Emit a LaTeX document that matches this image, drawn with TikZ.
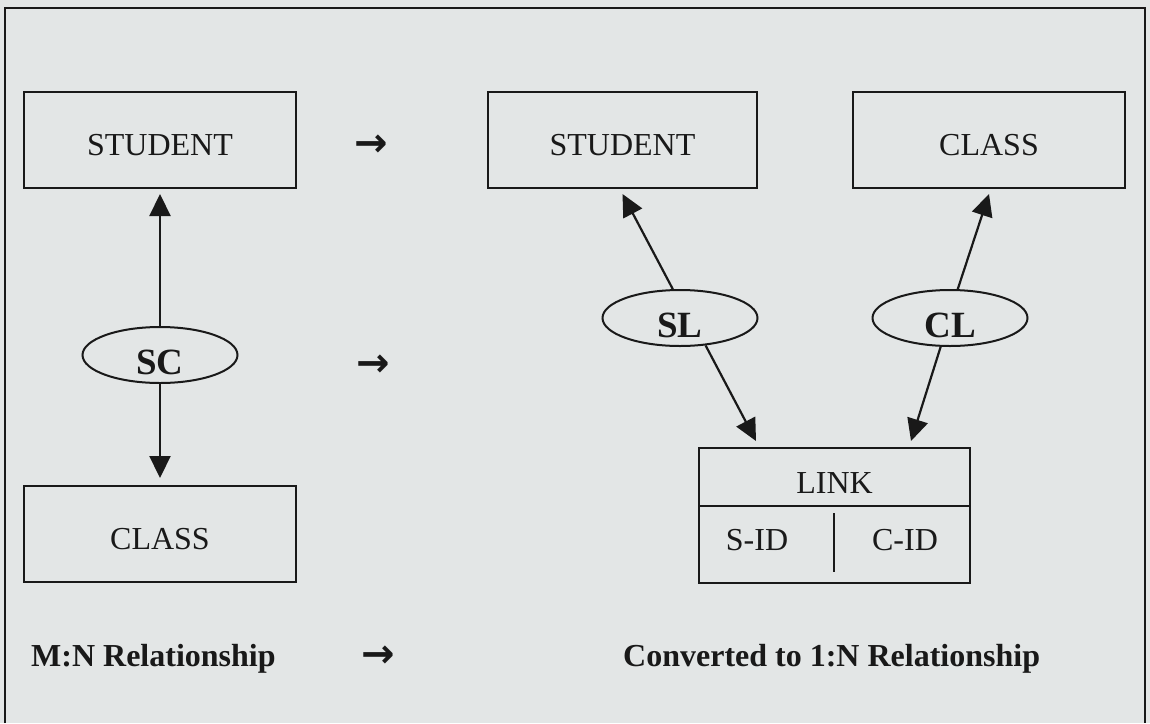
\documentclass[tikz,border=0pt]{standalone}
\usepackage{fontspec}
\setmainfont{Liberation Serif}
\newfontfamily\arrowfont{DejaVu Sans}
\usetikzlibrary{shapes.geometric,arrows.meta,calc}
\definecolor{bgc}{RGB}{227,230,230}
\definecolor{ink}{RGB}{25,25,25}
\tikzset{
  entity/.style={draw=ink, line width=2pt, minimum width=272pt, minimum height=96pt,
    inner sep=0pt, text height=30pt, text depth=0pt, font=\fontsize{32}{36}\selectfont, text=ink},
  rel/.style={ellipse, draw=ink, line width=2pt, minimum width=155pt, minimum height=56pt,
    inner sep=0pt, text height=39pt, text depth=0pt, font=\fontsize{37}{40}\selectfont\bfseries, text=ink},
  conn/.style={draw=ink, line width=2.2pt, -{Triangle[width=21pt,length=22pt]}},
  plain/.style={inner sep=0pt, anchor=base, font=\fontsize{32}{36}\selectfont, text=ink},
  caption/.style={inner sep=0pt, anchor=base west, font=\fontsize{32}{36}\selectfont\bfseries, text=ink},
  arrowtxt/.style={inner sep=0pt, font=\arrowfont\bfseries\fontsize{40}{44}\selectfont, text=ink},
  divider/.style={draw=ink, line width=2pt}
}
\begin{document}
\begin{tikzpicture}[x=1pt,y=-1pt]
\fill[bgc] (0,0) rectangle (1150,723);
\useasboundingbox (0,0) rectangle (1150,723);
% outer frame
\coordinate (f1) at (5,723);
\coordinate (f2) at (5,8);
\coordinate (f3) at (1145,8);
\coordinate (f4) at (1145,723);
\draw[divider] (f1) -- (f2) -- (f3) -- (f4);

% left side: M:N
\node[entity] (ls) at (160,140) {STUDENT};
\node[entity] (lc) at (160,534) {CLASS};
\node[rel] (sc) at (160,355) {SC};
\draw[conn] (sc) -- ([yshift=-5pt]ls.south);
\draw[conn] (sc) -- ([yshift=7pt]lc.north);

% transition arrows
\node[arrowtxt] (a1) at (371,146) {→};
\node[arrowtxt] (a2) at (373,366) {→};
\node[arrowtxt] (a3) at (378,657) {→};

% right side: 1:N
\node[entity, minimum width=269pt] (rs) at (622.5,140) {STUDENT};
\node[entity] (rc) at (989,140) {CLASS};
\node[rel] (sl) at (680,318) {SL};
\node[rel] (cl) at (950,318) {CL};
\node[draw=ink, line width=2pt, minimum width=271pt, minimum height=135pt, inner sep=0pt] (link) at (834.5,515.5) {};
\node[plain] (lt) at (834.5,493) {LINK};
\node[plain] (sid) at (757,550) {S-ID};
\node[plain] (cid) at (905,550) {C-ID};
\coordinate (hd) at (834.5,506);
\draw[divider] (link.west |- hd) -- (link.east |- hd);
\coordinate (vt) at (834.3,513);
\coordinate (vb) at (834.3,572);
\draw[divider] (vt) -- (vb);

\draw[conn] (sl.104) -- ([yshift=-5pt]rs.south);
\draw[conn] (cl.75) -- ([yshift=-5pt]rc.south);
\draw[conn] (sl.-47) -- ($(link.north west)+(58,-6)$);
\draw[conn] (cl.-108) -- ($(link.north west)+(213,-6)$);

% captions
\node[caption] (mn) at (31,666) {M:N Relationship};
\node[caption] (cv) at (623,666) {Converted to 1:N Relationship};
\end{tikzpicture}
\end{document}
